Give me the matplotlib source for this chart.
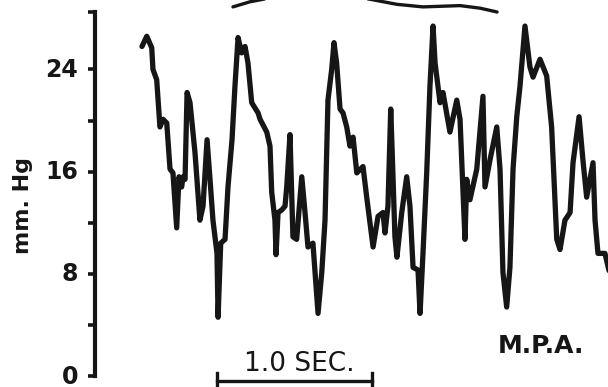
#!/usr/bin/env python

import numpy as np
import matplotlib
matplotlib.use('Agg')
import matplotlib.pyplot as plt
import matplotlib.transforms as mtransforms

# pressure trace (time in s, pressure in mm Hg)
time_s = [0.303, 0.334, 0.366, 0.374, 0.398, 0.419, 0.439, 0.463, 0.484, 0.503,
          0.527, 0.542, 0.559, 0.568, 0.581, 0.594, 0.613, 0.645, 0.677, 0.697,
          0.723, 0.742, 0.761, 0.787, 0.794, 0.811, 0.839, 0.858, 0.884, 0.903,
          0.923, 0.946, 0.968, 0.987, 1.011, 1.052, 1.065, 1.108, 1.129, 1.140,
          1.161, 1.168, 1.181, 1.205, 1.226, 1.237, 1.258, 1.277, 1.301, 1.334,
          1.355, 1.374, 1.406, 1.439, 1.463, 1.484, 1.503, 1.527, 1.542, 1.559,
          1.581, 1.600, 1.624, 1.645, 1.665, 1.689, 1.729, 1.753, 1.794, 1.826,
          1.858, 1.871, 1.890, 1.908, 1.921, 1.935, 1.948, 1.979, 2.011, 2.032,
          2.052, 2.084, 2.097, 2.116, 2.140, 2.161, 2.181, 2.194, 2.226, 2.245,
          2.290, 2.334, 2.355, 2.387, 2.398, 2.419, 2.463, 2.503, 2.516, 2.548,
          2.592, 2.613, 2.632, 2.656, 2.677, 2.697, 2.721, 2.742, 2.774, 2.806,
          2.826, 2.871, 2.914, 2.946, 2.979, 3.000, 3.032, 3.065, 3.084, 3.123,
          3.148, 3.172, 3.213, 3.226, 3.245, 3.290, 3.323]
pressure = [25.8, 26.6, 25.7, 24.0, 23.2, 19.5, 20.1, 19.8, 16.2, 15.9,
            11.6, 15.6, 14.8, 15.6, 15.4, 22.2, 21.4, 17.5, 12.2, 13.3,
            18.5, 15.4, 12.2, 9.6, 4.6, 10.4, 10.7, 14.8, 18.5, 22.7,
            26.5, 25.3, 25.8, 24.5, 21.4, 20.6, 20.1, 19.1, 18.0, 14.4,
            12.2, 9.5, 12.8, 13.0, 13.3, 14.8, 18.9, 10.9, 10.7, 15.6,
            12.8, 10.1, 10.4, 4.9, 8.1, 12.2, 21.6, 24.0, 26.1, 24.5,
            20.9, 20.6, 19.5, 18.0, 18.7, 15.9, 16.4, 14.0, 10.1, 12.5,
            12.8, 11.2, 13.3, 20.9, 16.2, 10.9, 9.3, 12.8, 15.6, 13.3,
            8.5, 8.3, 4.9, 9.6, 15.9, 22.7, 27.4, 24.5, 21.4, 22.2,
            19.1, 21.6, 20.1, 10.7, 15.4, 13.8, 16.2, 21.9, 14.8, 16.9,
            19.5, 16.2, 8.1, 5.4, 8.5, 16.2, 20.3, 22.7, 27.4, 24.2,
            23.4, 24.8, 23.5, 19.5, 10.7, 9.9, 12.2, 12.8, 16.7, 20.3,
            16.9, 14.0, 16.7, 12.2, 9.6, 9.6, 7.9]

# the curved stroke cut off at the top of the page
arc_t = [0.890, 1.000, 1.129, 1.323, 1.581, 1.774, 1.948, 2.116, 2.355, 2.484, 2.594]
arc_p = [28.9, 29.3, 29.6, 29.9, 29.8, 29.5, 29.1, 28.9, 29.0, 28.8, 28.5]

ytick_vals = [0, 4, 8, 12, 16, 20, 24, 28.5]
ytick_labels = ['0', '', '8', '', '16', '', '24', '']

scale_start = 0.787   # s
scale_len = 1.0       # s

ink = '#161616'

fig = plt.figure(figsize=(6.08, 3.87), dpi=100)
ax = fig.add_axes([95/608, 11/387, 513/608, 364/387])

ax.plot(time_s, pressure, color=ink, lw=3.8, solid_joinstyle='round',
        solid_capstyle='round')
ax.plot(arc_t, arc_p, color=ink, lw=2.4, clip_on=False, solid_capstyle='round')

ax.set_xlim(0, 513/155)
ax.set_ylim(0, 28.5)

for s in ['top', 'right', 'bottom']:
  ax.spines[s].set_visible(False)
ax.spines['left'].set_linewidth(3.0)
ax.spines['left'].set_color(ink)

ax.set_xticks([])
ax.set_yticks(ytick_vals, ytick_labels)
ax.tick_params(axis='y', length=5, width=2.6, pad=7, colors=ink, labelsize=17)
# nudge the labels up a little, as on the original
shift = mtransforms.ScaledTranslation(0, 2/100, fig.dpi_scale_trans)
for lab in ax.get_yticklabels():
  lab.set_fontweight('bold')
  lab.set_transform(lab.get_transform() + shift)

fig.text(23/608, 1 - 205/387, 'mm. Hg', rotation=90, ha='center', va='center',
         fontsize=16, fontweight='bold', color=ink)

# 1 second scale bar under the trace
yb = -0.39
ax.plot([scale_start, scale_start + scale_len], [yb, yb], color=ink, lw=2.4,
        clip_on=False)
for xe in [scale_start, scale_start + scale_len]:
  ax.plot([xe, xe], [0.25, -1.0], color=ink, lw=2.4, clip_on=False)
ax.text(1.32, 0.95, '1.0 SEC.', ha='center', va='center', fontsize=19,
        color=ink, clip_on=False)

ax.text(2.877, 2.35, 'M.P.A.', ha='center', va='center', fontsize=18,
        fontweight='heavy', color=ink)

fig.savefig('out.png', dpi=100)
